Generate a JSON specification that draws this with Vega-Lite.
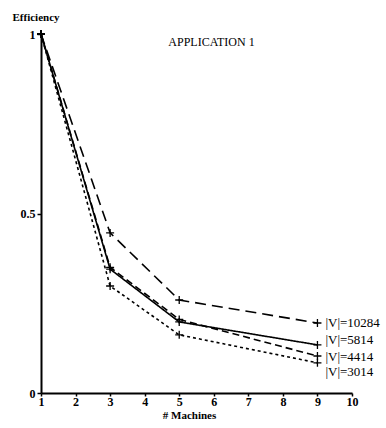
{
  "$schema": "https://vega.github.io/schema/vega-lite/v6.json",
  "width": 311,
  "height": 359,
  "autosize": {"type": "none"},
  "padding": {"left": 41, "top": 34, "right": 34, "bottom": 35},
  "background": "white",
  "config": {
    "view": {"stroke": null},
    "font": "Liberation Serif",
    "axis": {"grid": false, "domainColor": "black", "domainWidth": 2, "tickColor": "black", "tickWidth": 1.5, "labelColor": "black", "titleColor": "black", "labelFont": "Liberation Serif", "titleFont": "Liberation Serif"}
  },
  "title": {
    "text": "APPLICATION 1",
    "font": "Liberation Serif",
    "fontSize": 12,
    "fontWeight": "normal",
    "color": "black",
    "anchor": "middle",
    "offset": 0,
    "dx": 15,
    "dy": 38
  },
  "datasets": {
    "series": [
      {"machines": 1, "efficiency": 1, "series": "10284"},
      {"machines": 3, "efficiency": 0.446, "series": "10284"},
      {"machines": 5, "efficiency": 0.259, "series": "10284"},
      {"machines": 9, "efficiency": 0.195, "series": "10284"},
      {"machines": 1, "efficiency": 1, "series": "5814"},
      {"machines": 3, "efficiency": 0.345, "series": "5814"},
      {"machines": 5, "efficiency": 0.198, "series": "5814"},
      {"machines": 9, "efficiency": 0.134, "series": "5814"},
      {"machines": 1, "efficiency": 1, "series": "4414"},
      {"machines": 3, "efficiency": 0.35, "series": "4414"},
      {"machines": 5, "efficiency": 0.205, "series": "4414"},
      {"machines": 9, "efficiency": 0.103, "series": "4414"},
      {"machines": 1, "efficiency": 1, "series": "3014"},
      {"machines": 3, "efficiency": 0.298, "series": "3014"},
      {"machines": 5, "efficiency": 0.162, "series": "3014"},
      {"machines": 9, "efficiency": 0.084, "series": "3014"}
    ],
    "labels": [
      {"machines": 9, "efficiency": 0.195, "label": "|V|=10284"},
      {"machines": 9, "efficiency": 0.148, "label": "|V|=5814"},
      {"machines": 9, "efficiency": 0.1, "label": "|V|=4414"},
      {"machines": 9, "efficiency": 0.058, "label": "|V|=3014"}
    ]
  },
  "encoding": {
    "x": {
      "field": "machines", "type": "quantitative",
      "scale": {"domain": [1, 10], "nice": false, "zero": false},
      "axis": {"values": [1, 2, 3, 4, 5, 6, 7, 8, 9, 10], "tickSize": 3, "labelPadding": 0, "labelFontSize": 12, "labelFontWeight": "bold", "labelFlush": false,
        "title": "# Machines", "titleFontSize": 11, "titleFontWeight": "bold", "titleX": 148, "titleY": 22, "titleBaseline": "middle", "titleAnchor": "start", "titleAlign": "center"}
    },
    "y": {
      "field": "efficiency", "type": "quantitative",
      "scale": {"domain": [0, 1], "nice": false},
      "axis": {"values": [0, 0.5, 1], "format": "~g", "tickSize": 4, "labelPadding": 2, "labelFontSize": 12, "labelFontWeight": "bold", "labelFlush": false,
        "title": "Efficiency", "titleAngle": 0, "titleFontSize": 11, "titleFontWeight": "bold", "titleX": -29, "titleY": -17, "titleAlign": "left", "titleBaseline": "middle"}
    }
  },
  "layer": [
    {
      "data": {"name": "series"},
      "mark": {"type": "line", "color": "black", "strokeWidth": 1.6},
      "encoding": {
        "detail": {"field": "series"},
        "strokeDash": {"field": "series", "type": "nominal", "legend": null,
          "scale": {"domain": ["10284", "5814", "4414", "3014"], "range": [[11, 6], [1, 0], [7, 4], [3, 3]]}}
      }
    },
    {
      "data": {"name": "series"},
      "mark": {"type": "point", "shape": "M-1,0H1M0,-1V1", "filled": false, "color": "black", "strokeWidth": 1.3, "size": 64, "opacity": 1},
      "encoding": {"detail": {"field": "series"}}
    },
    {
      "data": {"name": "labels"},
      "mark": {"type": "text", "align": "left", "baseline": "middle", "dx": 8, "fontSize": 13, "font": "Liberation Serif", "color": "black"},
      "encoding": {"text": {"field": "label"}}
    }
  ]
}
